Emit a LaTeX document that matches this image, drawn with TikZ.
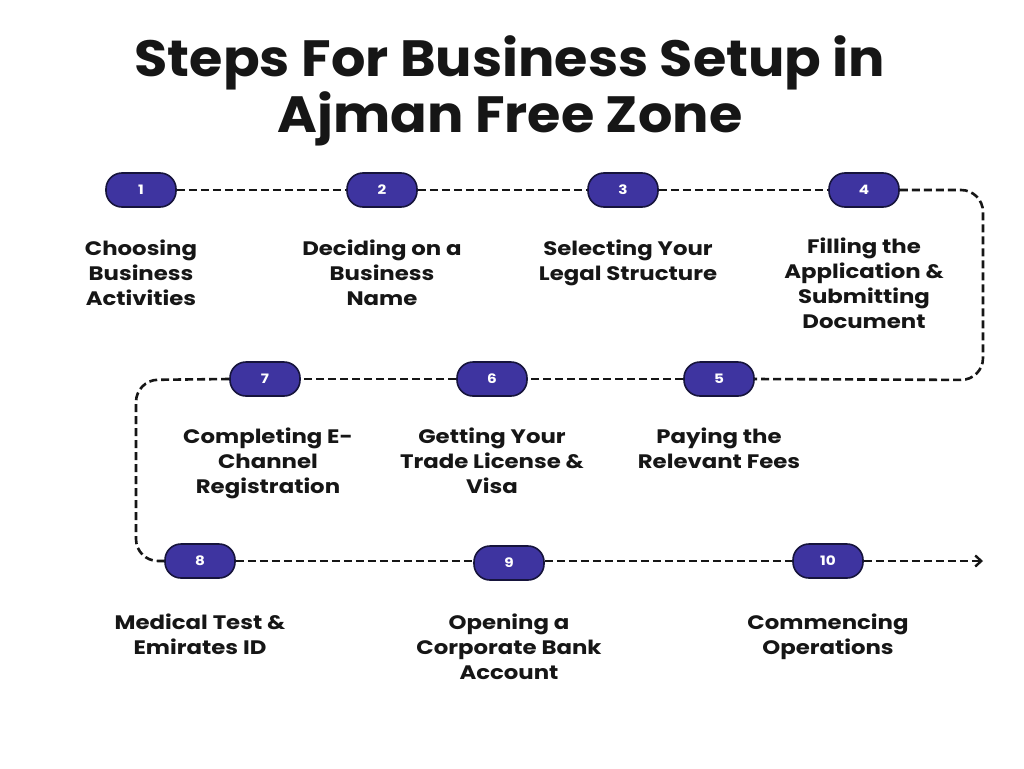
\documentclass[tikz,border=0pt]{standalone}
\usepackage{fontspec}
\setmainfont{Poppins}
\newfontfamily\widefont{Poppins}[FakeStretch=1.17]
\newfontfamily\titlefont{Poppins}[FakeStretch=1.06]
\usetikzlibrary{arrows.meta}
\definecolor{pillfill}{RGB}{62,52,160}
\definecolor{pillline}{RGB}{22,20,60}
\definecolor{ink}{RGB}{22,22,22}
\tikzset{
  pill/.style={draw=pillline, line width=1.6pt, fill=pillfill, rounded corners=16pt,
    minimum width=70pt, minimum height=34pt, inner sep=0pt,
    text=white, font=\widefont\fontsize{13}{13}\selectfont\bfseries},
  lbl/.style={align=center, text=ink, anchor=north, inner sep=0pt,
    font=\widefont\fontsize{19.5}{25}\selectfont\bfseries},
  path/.style={draw=ink, line width=2.6pt, dash pattern=on 8pt off 4pt, rounded corners=22pt},
}
\begin{document}
\begin{tikzpicture}[x=1pt,y=-1pt]
\useasboundingbox (0,0) rectangle (1024,768);
\fill[white] (0,0) rectangle (1024,768);
\node[text=ink, font=\titlefont\fontsize{51}{56}\selectfont\bfseries, align=center] (title) at (510,91)
  {Steps For Business Setup in\\Ajman Free Zone};
\coordinate (c1) at (983,190);
\coordinate (c2) at (983,380);
\coordinate (c3) at (136,380);
\coordinate (c4) at (136,561);
\coordinate (end) at (983,561);
\node[pill] (p1) at (141,190) {1};
\node[pill] (p2) at (382,190) {2};
\node[pill] (p3) at (623,190) {3};
\node[pill] (p4) at (864,190) {4};
\node[pill] (p5) at (719,379) {5};
\node[pill] (p6) at (492,379) {6};
\node[pill] (p7) at (265,379) {7};
\node[pill] (p8) at (200,561) {8};
\node[pill] (p9) at (509,563) {9};
\node[pill] (p10) at (828,561) {10};
\draw[path] (p1.east) -- (p2.west);
\draw[path] (p2.east) -- (p3.west);
\draw[path] (p3.east) -- (p4.west);
\draw[path] (p4.east) -- (c1) -- (c2) -- (p5.east);
\draw[path] (p5.west) -- (p6.east);
\draw[path] (p6.west) -- (p7.east);
\draw[path] (p7.west) -- (c3) -- (c4) -- (p8.west);
\draw[path] (p8.east) -- (p9.west |- p8.east);
\draw[path] (p9.east |- p10.west) -- (p10.west);
\draw[path, -{Straight Barb[length=6pt,width=11pt,line width=2.4pt]}] (p10.east) -- (end);
\node[lbl] (l1) at (141,240) {Choosing\\Business\\Activities};
\node[lbl] (l2) at (382,240) {Deciding on a\\Business\\Name};
\node[lbl] (l3) at (628,240) {Selecting Your\\Legal Structure};
\node[lbl] (l4) at (864,238) {Filling the\\Application \&\\Submitting\\Document};
\node[lbl] (l7) at (268,428) {Completing E-\\Channel\\Registration};
\node[lbl] (l6) at (492,428) {Getting Your\\Trade License \&\\Visa};
\node[lbl] (l5) at (719,428) {Paying the\\Relevant Fees};
\node[lbl] (l8) at (200,614) {Medical Test \&\\Emirates ID};
\node[lbl] (l9) at (509,614) {Opening a\\Corporate Bank\\Account};
\node[lbl] (l10) at (828,614) {Commencing\\Operations};
\end{tikzpicture}
\end{document}
